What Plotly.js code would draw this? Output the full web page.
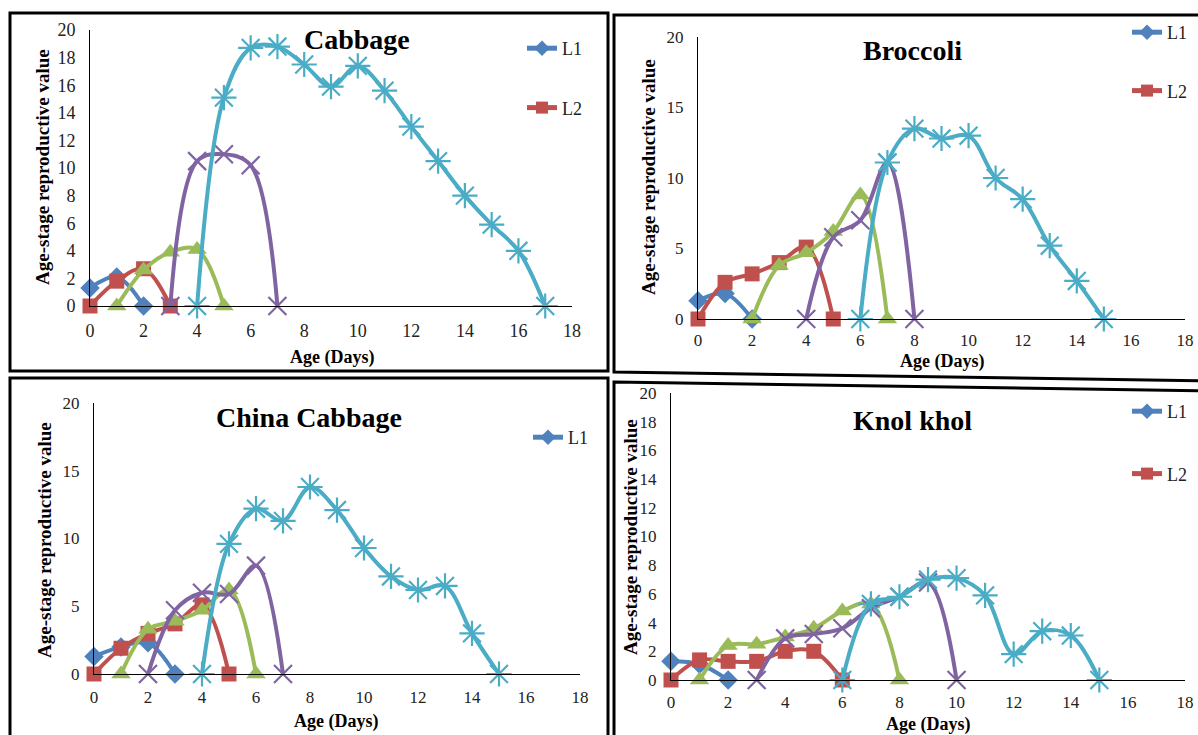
<!DOCTYPE html>
<html><head><meta charset="utf-8">
<script src="https://cdn.plot.ly/plotly-3.0.1.min.js"></script>
<style>html,body{margin:0;padding:0;background:#fff}#chart{width:1198px;height:735px}</style>
</head><body><div id="chart"></div>
<script>
// ---------- DATA ----------
const seriesNames = ['L1', 'L2', 'L3', 'L4', 'L5'];
const panelTitles = ['Cabbage', 'Broccoli', 'China Cabbage', 'Knol khol'];
const xAxisTitle = 'Age (Days)';
const yAxisTitle = 'Age-stage reproductive value';

// Cabbage
const cabbageL1x = [0, 1, 2];
const cabbageL1 = [1.3, 2.1, 0];
const cabbageL2x = [0, 1, 2, 3];
const cabbageL2 = [0, 1.8, 2.7, 0];
const cabbageL3x = [1, 2, 3, 4, 5];
const cabbageL3 = [0, 2.6, 3.9, 4.1, 0];
const cabbageL4x = [3, 4, 5, 6, 7];
const cabbageL4 = [0, 10.5, 11.0, 10.2, 0];
const cabbageL5x = [4, 5, 6, 7, 8, 9, 10, 11, 12, 13, 14, 15, 16, 17];
const cabbageL5 = [0, 15.1, 18.7, 18.8, 17.5, 15.9, 17.4, 15.6, 13.0, 10.5, 8.0, 5.9, 4.0, 0];

// Broccoli
const broccoliL1x = [0, 1, 2];
const broccoliL1 = [1.3, 1.8, 0];
const broccoliL2x = [0, 1, 2, 3, 4, 5];
const broccoliL2 = [0, 2.6, 3.2, 4.0, 5.1, 0];
const broccoliL3x = [2, 3, 4, 5, 6, 7];
const broccoliL3 = [0, 3.8, 4.7, 6.2, 8.8, 0];
const broccoliL4x = [4, 5, 6, 7, 8];
const broccoliL4 = [0, 5.8, 7.0, 11.1, 0];
const broccoliL5x = [6, 7, 8, 9, 10, 11, 12, 13, 14, 15];
const broccoliL5 = [0, 11.1, 13.5, 12.8, 13.0, 10.0, 8.5, 5.2, 2.7, 0];

// China Cabbage
const chinaL1x = [0, 1, 2, 3];
const chinaL1 = [1.3, 2.0, 2.3, 0];
const chinaL2x = [0, 1, 2, 3, 4, 5];
const chinaL2 = [0, 1.9, 3.0, 3.7, 5.1, 0];
const chinaL3x = [1, 2, 3, 4, 5, 6];
const chinaL3 = [0, 3.3, 3.9, 4.7, 6.2, 0];
const chinaL4x = [2, 3, 4, 5, 6, 7];
const chinaL4 = [0, 4.7, 6.0, 5.9, 8.0, 0];
const chinaL5x = [4, 5, 6, 7, 8, 9, 10, 11, 12, 13, 14, 15];
const chinaL5 = [0, 9.6, 12.2, 11.3, 13.8, 12.1, 9.3, 7.2, 6.2, 6.5, 3.0, 0];

// Knol khol
const knolL1x = [0, 1, 2];
const knolL1 = [1.3, 1.1, 0];
const knolL2x = [0, 1, 2, 3, 4, 5, 6];
const knolL2 = [0, 1.4, 1.3, 1.3, 2.0, 2.0, 0];
const knolL3x = [1, 2, 3, 4, 5, 6, 7, 8];
const knolL3 = [0, 2.4, 2.5, 3.0, 3.6, 4.8, 5.3, 0];
const knolL4x = [3, 4, 5, 6, 7, 8, 9, 10];
const knolL4 = [0, 2.9, 3.2, 3.6, 5.0, 5.8, 6.8, 0];
const knolL5x = [6, 7, 8, 9, 10, 11, 12, 13, 14, 15];
const knolL5 = [0, 5.3, 5.8, 7.0, 7.1, 5.9, 1.8, 3.4, 3.1, 0];

// ---------- STYLE / LAYOUT ----------
const W = 1198, H = 735;
const px = x => x / W, py = y => 1 - y / H;
const SERIF = '"Liberation Serif", serif';
const colors = {L1: '#4F81BD', L2: '#C0504D', L3: '#9BBB59', L4: '#8064A2', L5: '#4BACC6'};
const symbols = {L1: 'diamond', L2: 'square', L3: 'triangle-up', L4: 'x-thin-open', L5: 'asterisk-open'};
const msizes = {L1: 15, L2: 15, L3: 17, L4: 18, L5: 21};

const panels = [
  {data: [[cabbageL1x, cabbageL1], [cabbageL2x, cabbageL2], [cabbageL3x, cabbageL3], [cabbageL4x, cabbageL4], [cabbageL5x, cabbageL5]],
   legendShow: ['L1', 'L2'],
   plot: {x0: 90, x1: 572, y0: 306, y1: 30}, ydtick: 2, tickSize: 18, xStand: 8,
   title: {x: 357, y: 40}, ytitle: {x: 42, y: 167}, xtitle: {x: 332, y: 357},
   legend: {x: 522, y: 30, gap: 33}},
  {data: [[broccoliL1x, broccoliL1], [broccoliL2x, broccoliL2], [broccoliL3x, broccoliL3], [broccoliL4x, broccoliL4], [broccoliL5x, broccoliL5]],
   legendShow: ['L1', 'L2'],
   plot: {x0: 698, x1: 1185, y0: 319, y1: 37}, ydtick: 5, tickSize: 17, xStand: 6,
   title: {x: 913, y: 51}, ytitle: {x: 648, y: 177}, xtitle: {x: 942, y: 361},
   legend: {x: 1127, y: 14, gap: 32}},
  {data: [[chinaL1x, chinaL1], [chinaL2x, chinaL2], [chinaL3x, chinaL3], [chinaL4x, chinaL4], [chinaL5x, chinaL5]],
   legendShow: ['L1'],
   plot: {x0: 94, x1: 580, y0: 674, y1: 403}, ydtick: 5, tickSize: 17, xStand: 8,
   title: {x: 309, y: 417}, ytitle: {x: 44, y: 540}, xtitle: {x: 336, y: 721},
   legend: {x: 528, y: 419, gap: 33}},
  {data: [[knolL1x, knolL1], [knolL2x, knolL2], [knolL3x, knolL3], [knolL4x, knolL4], [knolL5x, knolL5]],
   legendShow: ['L1', 'L2'],
   plot: {x0: 671, x1: 1185, y0: 680, y1: 393}, ydtick: 2, tickSize: 17, xStand: 7,
   title: {x: 913, y: 420}, ytitle: {x: 630, y: 537}, xtitle: {x: 928, y: 724},
   legend: {x: 1127, y: 393, gap: 36}}
];

const traces = [];
const layout = {
  width: W, height: H,
  margin: {l: 0, r: 0, t: 0, b: 0},
  paper_bgcolor: '#fff', plot_bgcolor: 'rgba(0,0,0,0)',
  font: {family: SERIF, color: '#111'},
  showlegend: true,
  annotations: [], shapes: []
};

panels.forEach((p, i) => {
  const n = i === 0 ? '' : String(i + 1);
  const xa = 'x' + n, ya = 'y' + n;
  const legName = 'legend' + n;
  p.data.forEach((d, k) => {
    const nm = seriesNames[k];
    const open = symbols[nm].indexOf('open') >= 0;
    traces.push({
      type: 'scatter', mode: 'lines+markers', name: nm,
      x: d[0], y: d[1], xaxis: xa, yaxis: ya,
      legend: legName, legendgroup: legName + nm,
      showlegend: p.legendShow.indexOf(nm) >= 0,
      cliponaxis: false,
      line: {color: colors[nm], width: 4, shape: 'spline', smoothing: 1},
      marker: {symbol: symbols[nm], size: msizes[nm], color: colors[nm],
               line: {color: colors[nm], width: open ? 2.2 : 0}},
      hoverinfo: 'x+y+name'
    });
  });
  layout['xaxis' + n] = {
    domain: [px(p.plot.x0), px(p.plot.x1)], anchor: ya,
    range: [0, 18], dtick: 2, tick0: 0, tickmode: 'linear',
    showgrid: false, zeroline: false, showline: true, linecolor: '#000', linewidth: 1,
    ticks: '', ticklabelstandoff: p.xStand,
    tickfont: {family: SERIF, size: p.tickSize, color: '#222'}
  };
  layout['yaxis' + n] = {
    domain: [py(p.plot.y0), py(p.plot.y1)], anchor: xa,
    range: [0, 20], dtick: p.ydtick, tick0: 0, tickmode: 'linear',
    showgrid: false, zeroline: false, showline: true, linecolor: '#000', linewidth: 1,
    ticks: '', ticklabelstandoff: 10,
    tickfont: {family: SERIF, size: p.tickSize, color: '#222'}
  };
  layout[legName] = {
    x: px(p.legend.x), y: py(p.legend.y), xanchor: 'left', yanchor: 'top',
    xref: 'paper', yref: 'paper',
    bgcolor: 'rgba(0,0,0,0)', borderwidth: 0,
    font: {family: SERIF, size: 18, color: '#222'},
    tracegroupgap: p.legend.gap, itemsizing: 'constant', itemclick: false, itemdoubleclick: false
  };
  layout.annotations.push({
    text: '<b>' + panelTitles[i] + '</b>', xref: 'paper', yref: 'paper',
    x: px(p.title.x), y: py(p.title.y), xanchor: 'center', yanchor: 'middle',
    showarrow: false, font: {family: SERIF, size: 28, color: '#000'}
  });
  layout.annotations.push({
    text: '<b>' + yAxisTitle + '</b>', xref: 'paper', yref: 'paper', textangle: -90,
    x: px(p.ytitle.x), y: py(p.ytitle.y), xanchor: 'center', yanchor: 'middle',
    showarrow: false, font: {family: SERIF, size: 19, color: '#000'}
  });
  layout.annotations.push({
    text: '<b>' + xAxisTitle + '</b>', xref: 'paper', yref: 'paper',
    x: px(p.xtitle.x), y: py(p.xtitle.y), xanchor: 'center', yanchor: 'middle',
    showarrow: false, font: {family: SERIF, size: 18, color: '#000'}
  });
});

// panel frames (pixel corners -> paper)
function framePath(pts) {
  return 'M ' + pts.map(q => px(q[0]) + ',' + py(q[1])).join(' L ') + ' Z';
}
const frames = [
  [[10, 13], [608, 13], [608, 371], [10, 371]],
  [[614, 15], [1210, 15], [1210, 381], [614, 372]],
  [[10, 378], [608, 378], [608, 745], [10, 745]],
  [[614, 382], [1210, 391], [1210, 745], [614, 745]]
];
frames.forEach(f => layout.shapes.push({
  type: 'path', xref: 'paper', yref: 'paper', path: framePath(f),
  line: {color: '#000', width: 3}, fillcolor: 'rgba(0,0,0,0)', layer: 'above'
}));

Plotly.newPlot('chart', traces, layout, {staticPlot: false, displayModeBar: false});
</script>
</body></html>
